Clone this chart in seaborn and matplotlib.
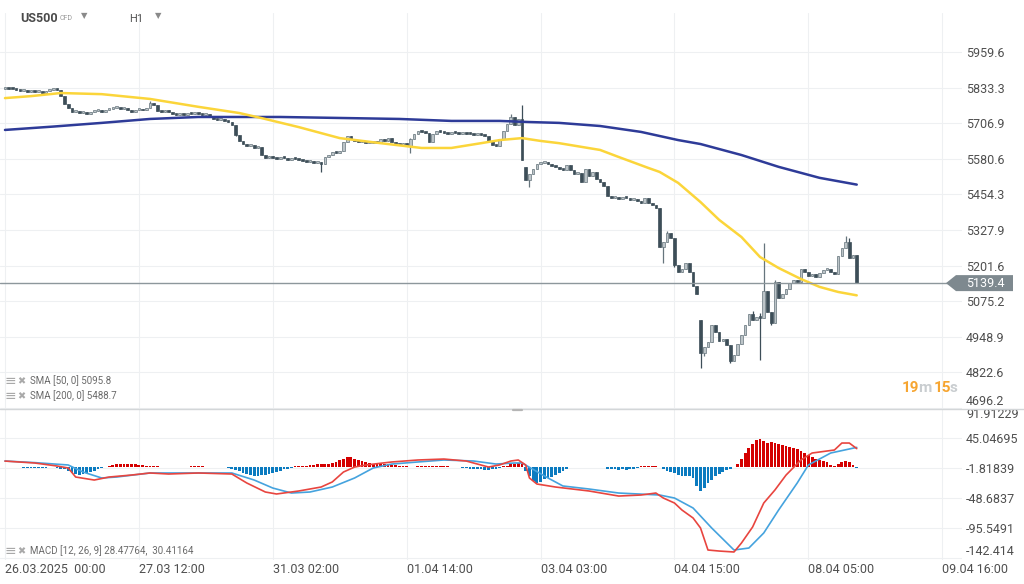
import numpy as np
import matplotlib
matplotlib.use("Agg")
import matplotlib.pyplot as plt
from matplotlib.patches import Polygon
from matplotlib.lines import Line2D
import seaborn as sns

# ---- price data (H1 candles) ----
closes = [
    5832, 5830, 5828, 5826, 5822, 5823, 5819, 5820, 5816, 5818,
    5814, 5820, 5826, 5829, 5824, 5805, 5775, 5760, 5745, 5750,
    5742, 5748, 5738, 5745, 5750, 5752, 5748, 5753, 5756, 5760,
    5762, 5758, 5762, 5755, 5748, 5755, 5758, 5752, 5760, 5778,
    5770, 5750, 5745, 5752, 5745, 5740, 5735, 5738, 5735, 5740,
    5738, 5742, 5740, 5736, 5738, 5728, 5722, 5718, 5722, 5715,
    5712, 5700, 5665, 5645, 5632, 5625, 5628, 5620, 5622, 5595,
    5585, 5590, 5583, 5580, 5586, 5582, 5578, 5583, 5580, 5576,
    5574, 5570, 5572, 5566, 5568, 5562, 5588, 5595, 5605, 5600,
    5610, 5640, 5662, 5650, 5645, 5640, 5642, 5635, 5638, 5640,
    5636, 5650, 5645, 5655, 5640, 5630, 5628, 5635, 5625, 5650,
    5670, 5680, 5675, 5672, 5640, 5668, 5678, 5675, 5672, 5670,
    5673, 5671, 5668, 5672, 5670, 5668, 5665, 5668, 5664, 5660,
    5645, 5630, 5625, 5650, 5680, 5705, 5730, 5700, 5722, 5578,
    5505, 5525, 5545, 5562, 5565, 5568, 5563, 5555, 5550, 5545,
    5540, 5560, 5540, 5525, 5530, 5500, 5545, 5520, 5535, 5510,
    5500, 5485, 5450, 5440, 5445, 5438, 5442, 5440, 5436, 5438,
    5430, 5425, 5442, 5425, 5415, 5405, 5268, 5285, 5318, 5300,
    5205, 5180, 5190, 5210, 5180, 5128, 5102, 4893, 4912, 4930,
    4990, 4965, 4935, 4940, 4920, 4862, 4885, 4925, 4955, 4990,
    5030, 5010, 5020, 5015, 5110, 5037, 4998, 5143, 5085, 5100,
    5120, 5140, 5152, 5145, 5188, 5180, 5165, 5170, 5160, 5175,
    5185, 5190, 5180, 5170, 5237, 5265, 5285, 5228, 5238, 5139.4,
]
gap_opens = {0: 5830, 140: 5552, 187: 5010}
wick_highs = {16: 5805, 39: 5785, 109: 5655, 136: 5740, 139: 5770, 178: 5325,
              201: 5040, 203: 5035, 204: 5282, 207: 5150, 226: 5305, 227: 5300}
wick_lows = {62: 5660, 85: 5535, 109: 5602, 141: 5480, 177: 5210, 180: 5195,
             187: 4838, 188: 4880, 195: 4855, 203: 4868, 206: 4990}

sma50_bars = [0, 7, 15, 26, 39, 52, 63, 69, 79, 90, 101, 112, 120, 128, 133, 139,
              144, 149, 160, 165, 173, 176, 181, 187, 192, 198, 203, 208, 214, 219, 224, 229]
sma50_vals = [5796, 5803, 5814, 5810, 5793, 5765, 5743, 5725, 5693, 5654, 5636, 5619,
              5619, 5636, 5647, 5654, 5644, 5636, 5612, 5587, 5548, 5534, 5495, 5427,
              5364, 5303, 5232, 5193, 5154, 5126, 5108, 5096]
sma200_bars = [0, 13, 26, 39, 52, 74, 106, 120, 133, 141, 149, 160, 171, 181, 187, 198, 208, 219, 229]
sma200_vals = [5683, 5695, 5708, 5722, 5729, 5729, 5722, 5715, 5715, 5711, 5708, 5697,
               5676, 5647, 5633, 5594, 5552, 5513, 5489]

# ---- MACD panel ----
macd_bars = [0, 8, 14, 17, 19, 24, 28, 34, 39, 44, 52, 61, 65, 70, 73, 79, 85, 88, 91, 94,
             97, 104, 111, 118, 124, 130, 133, 136, 138, 140, 141, 143, 148, 157, 165, 171,
             175, 177, 180, 182, 185, 187, 189, 192, 196, 198, 201, 204, 207, 210, 214, 217,
             223, 225, 227, 229]
macd_vals = [9, 6, 1.3, -1.8, -15.9, -20.6, -15.9, -12.8, -9.6, -11.2, -9.6, -11.2, -25.2,
             -39.3, -42.4, -37.7, -31.5, -23.6, -8.1, -0.3, 2.9, 7.6, 10.7, 12.2, 9.1, -0.3,
             3, 9.1, 10.7, 2.9, -17.4, -26.8, -31.5, -37.7, -45.6, -44.0, -40.9, -48.7,
             -56.5, -67.4, -79.9, -95.5, -129.9, -131.5, -133.0, -119.0, -94.0, -56.5,
             -36.2, -12.8, 10.7, 21.6, 26.3, 37.2, 37.2, 28.5]
signal_bars = [0, 8, 17, 21, 26, 30, 39, 52, 61, 67, 72, 77, 82, 88, 94, 99, 104, 111, 118,
               126, 132, 137, 139, 146, 150, 157, 165, 176, 180, 185, 190, 196, 200, 204,
               208, 213, 216, 222, 229]
signal_vals = [9.1, 6.6, 2.9, -8.1, -17.4, -15.9, -9.6, -9.6, -9.6, -20.6, -33.1, -40.9,
               -39.3, -31.5, -17.4, -1.8, 4.4, 7.6, 10.7, 9.1, 4.4, 6.0, 6.0, -17.4, -29.9,
               -34.6, -40.9, -44.0, -48.7, -64.3, -95.5, -129.9, -126.8, -103.3, -67.4,
               -25.2, 2.9, 21.6, 30.4]
hist_vals = [
    0.4, 0.2, 0, -0.3, -0.5, -2, -2, -2, -2, -1.5,
    -2, -1.5, -1, -1, -2, -3, -4, -6, -9, -11,
    -12, -11, -10, -8, -6, -4, -2, -1, 2, 3,
    4, 5, 5, 5, 4, 4, 3, 3, 2, 2,
    2, 1, 0.5, 0.3, 0, 0, 0, 0, 0, 0,
    1, 1, 1, 1, 0.5, 0, -1, 0, -0.5, -1,
    -2, -3, -5, -7, -9, -11, -13, -14, -14, -13,
    -12, -11, -10, -8, -6, -4, -3, -2, 1, 1,
    2, 2, 3, 3, 4, 4, 5, 5, 6, 8,
    10, 13, 15, 15, 13, 11, 9, 7, 6, 5,
    5, 4, 4, 4, 3, 3, 2, 1, 1, 0.5,
    0.5, 2, 2, 2, 2, 1.5, 2, 1.5, 1, 1,
    0.5, 0, -0.5, -2, -2, -3, -3, -4, -4, -5,
    -5, -4, -3, -2, 1, 2, 4, 5, 6, 5,
    -6, -15, -22, -25, -23, -19, -17, -16, -12, -9,
    -6, -3, -1, -1, -1, -1, -0.5, -1, -1, -1,
    -0.5, -1, -3, -4, -4, -5, -4, -5, -4, -3,
    -2, 1, 2, 2, 2, 1, 0.5, -4, -6, -8,
    -10, -12, -14, -14, -15, -18, -30, -38, -33, -26,
    -20, -15, -11, -8, -5, -3, -1, 5, 12, 22,
    30, 36, 42, 43, 40, 38, 39, 37, 35, 34,
    33, 31, 29, 28, 25, 22, 19, 15, 12, 11,
    9, 7, 3, 2, 4, 7, 9, 7, 3, -2,
]

price_ticks = [5959.6, 5833.3, 5706.9, 5580.6, 5454.3, 5327.9, 5201.6, 5075.2, 4948.9, 4822.6, 4696.2]
macd_ticks = [91.91229, 45.04695, -1.81839, -48.6837, -95.5491, -142.414]
time_ticks = [0, 36, 72, 108, 144, 180, 216, 252]
time_labels = ["26.03.2025  00:00", "27.03 12:00", "31.03 02:00", "01.04 14:00",
               "03.04 03:00", "04.04 15:00", "08.04 05:00", "09.04 16:00"]

sns.set_theme(style="white")
plt.rcParams["font.family"] = ["Roboto", "DejaVu Sans"]

W, H = 1024, 584
fig = plt.figure(figsize=(W / 100, H / 100), dpi=100)
fig.patch.set_facecolor("white")


def box(x0, y0, x1, y1):
    return [x0 / W, 1 - y1 / H, (x1 - x0) / W, (y1 - y0) / H]


ax = fig.add_axes(box(0, 13, 962, 408))
axm = fig.add_axes(box(0, 408, 962, 560), sharex=ax)

GRID = "#eef0f2"
TXT = "#4f4f4f"
for a in (ax, axm):
    for s in a.spines.values():
        s.set_visible(False)
    a.set_facecolor("white")
    a.grid(True, color=GRID, lw=0.8)
    a.set_axisbelow(True)
    a.yaxis.tick_right()
    a.tick_params(length=0, labelsize=9, labelcolor=TXT, pad=3)

ax.set_xlim(-1.34, 257.3)
ax.set_xticks(time_ticks)
ax.tick_params(labelbottom=False)

# ---- candles ----
closes_arr = np.array(closes, dtype=float)
idx = np.arange(len(closes_arr))
opens = np.array([gap_opens.get(i, closes[i - 1]) for i in idx], dtype=float)
highs = np.maximum(np.maximum(opens, closes_arr), [wick_highs.get(i, 0) for i in idx])
lows = np.minimum(np.minimum(opens, closes_arr), [wick_lows.get(i, 1e9) for i in idx])
up = closes_arr >= opens

UP_FACE, UP_EDGE = "#bcc4c8", "#66757d"
DN_FACE = "#3d4e58"
edge_cols = np.where(up, UP_EDGE, DN_FACE)
ax.vlines(idx, lows, highs, colors=edge_cols, lw=0.9, zorder=2)
body_lo = np.minimum(opens, closes_arr)
body_h = np.maximum(np.abs(closes_arr - opens), 7)
ax.bar(idx[up], body_h[up], bottom=body_lo[up], width=0.72,
       color=UP_FACE, edgecolor=UP_EDGE, linewidth=0.5, zorder=3)
ax.bar(idx[~up], body_h[~up], bottom=body_lo[~up], width=0.72,
       color=DN_FACE, edgecolor=DN_FACE, linewidth=0.5, zorder=3)

# moving averages
sns.lineplot(x=sma200_bars, y=sma200_vals, ax=ax, color="#2e3b98", lw=1.8, zorder=4)
sns.lineplot(x=sma50_bars, y=sma50_vals, ax=ax, color="#fbd53a", lw=1.8, zorder=4)

last = closes[-1]
ax.axhline(last, color="#8d979c", lw=1.0, zorder=5)

ax.set_ylim(4696.5, 6098)
ax.set_yticks(price_ticks)
ax.set_yticklabels([f"{v:.1f}" for v in price_ticks])
ax.get_yticklabels()[-1].set_va("bottom")
ax.set_xlabel("")
ax.set_ylabel("")

# ---- MACD ----
hist = np.array(hist_vals, dtype=float)
hcols = np.where(hist >= 0, "#d40000", "#0b7bc0")
axm.bar(np.arange(len(hist)), hist, width=0.75, color=hcols, linewidth=0, zorder=2)
sns.lineplot(x=signal_bars, y=signal_vals, ax=axm, color="#45a3de", lw=1.2, zorder=3)
sns.lineplot(x=macd_bars, y=macd_vals, ax=axm, color="#e8453f", lw=1.2, zorder=3)
axm.set_ylim(-145.5, 91.9)
axm.set_yticks(macd_ticks)
axm.set_yticklabels(["91.91229", "45.04695", "-1.81839", "-48.6837", "-95.5491", "-142.414"])
axm.get_yticklabels()[0].set_va("top")
axm.get_yticklabels()[-1].set_va("bottom")
axm.set_xticks(time_ticks)
axm.set_xticklabels(time_labels, ha="left")
axm.tick_params(axis="x", pad=2)
axm.set_xlabel("")
axm.set_ylabel("")

# ---- decorations ----
fig.add_artist(Line2D([0, 1], [1 - 408.5 / H] * 2, transform=fig.transFigure,
                      color="#d3d6d8", lw=1))
fig.add_artist(Line2D([513 / W, 522 / W], [1 - 409.5 / H] * 2, transform=fig.transFigure,
                      color="#b5b5b5", lw=1.6))

# last price tag
y_last = ax.transData.transform((0, last))[1] / H
hh = 8 / H
tag = Polygon([(946 / W, y_last), (956 / W, y_last + hh), (1013 / W, y_last + hh),
               (1013 / W, y_last - hh), (956 / W, y_last - hh)],
              closed=True, transform=fig.transFigure, facecolor="#7e898f", edgecolor="none")
fig.add_artist(tag)
fig.text(985 / W, y_last, f"{last:.1f}", color="white", fontsize=9, ha="center", va="center")

# countdown
ORANGE, LIGHT = "#f6a531", "#c9cdd0"
for txt, x, col in [("19", 902, ORANGE), ("m", 918, LIGHT), ("15", 934, ORANGE), ("s", 950, LIGHT)]:
    fig.text(x / W, 1 - 388 / H, txt, color=col, fontsize=11, fontweight="bold", va="center")

# header
fig.text(20 / W, 1 - 18 / H, "US500", fontsize=9, fontweight="bold", color="#4a4a4a", va="center")
fig.text(60 / W, 1 - 18 / H, "CFD", fontsize=5, color="#9a9a9a", va="center")
fig.text(81 / W, 1 - 16 / H, "\u25bc", fontsize=6, color="#8a8a8a", va="center")
fig.text(129 / W, 1 - 19 / H, "H1", fontsize=8, color="#555555", va="center")
fig.text(155 / W, 1 - 16 / H, "\u25bc", fontsize=6, color="#8a8a8a", va="center")

# indicator legends
ICON = "#a9a9a9"
for y, label in [(381, "SMA [50, 0] 5095.8"), (396, "SMA [200, 0] 5488.7"),
                 (551, "MACD [12, 26, 9] 28.47764,  30.41164")]:
    fig.text(5 / W, 1 - y / H, "\u2261", fontsize=10, color=ICON, va="center")
    fig.text(17 / W, 1 - y / H, "\u2716", fontsize=7, color=ICON, va="center")
    fig.text(30 / W, 1 - y / H, label, fontsize=7, color="#6a6a6a", va="center")

fig.savefig("out.png", dpi=100, facecolor="white")
